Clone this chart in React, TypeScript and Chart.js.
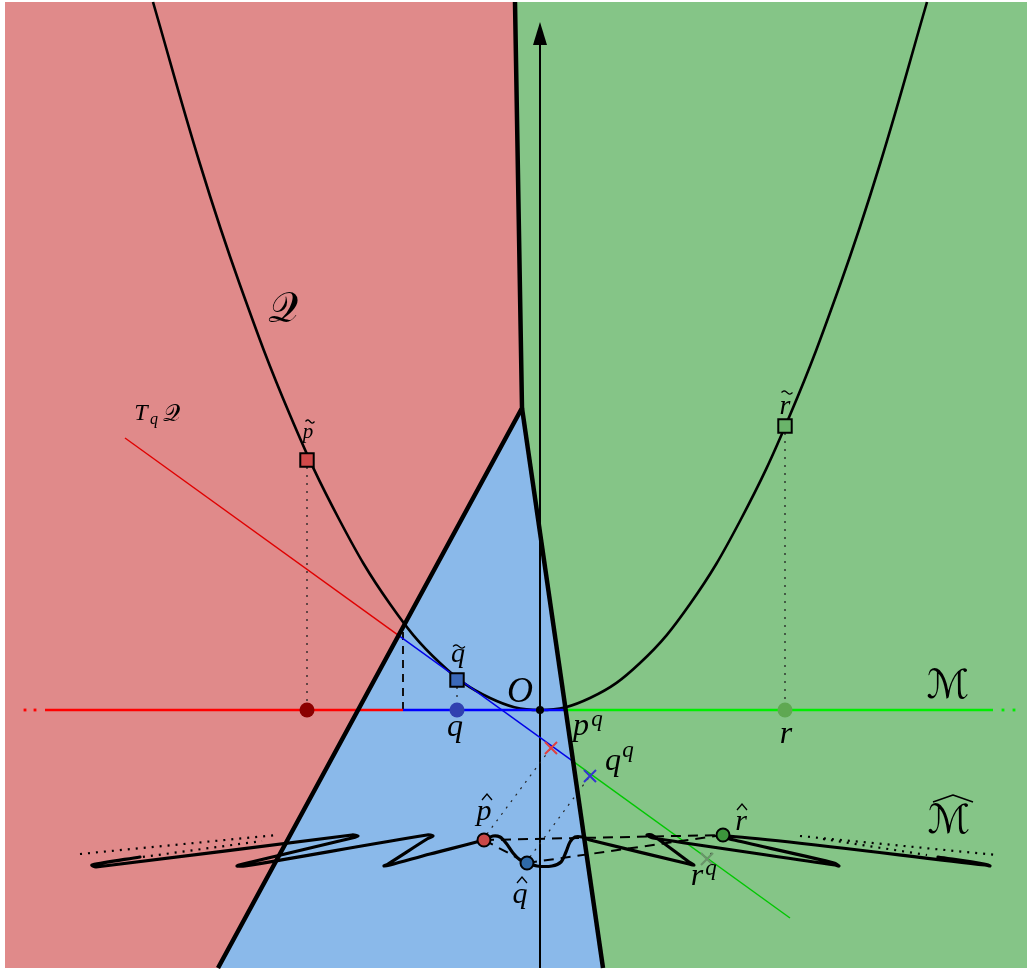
import React, { useEffect, useRef } from 'react';
import { Chart, registerables } from 'chart.js';

Chart.register(...registerables);

type P = { x: number; y: number };
const pts = (a: number[][]): P[] => a.map(([x, y]) => ({ x, y }));

// diagram window (origin O at the axis crossing, 1 unit = 100 px)
const X_MIN = -5.4, X_MAX = 4.87, Y_MIN = -2.61, Y_MAX = 7.1;

// coloured cells
const redCell = pts([[-5.35, 7.08], [-0.25, 7.08], [-0.18, 3.02], [-3.22, -2.58], [-5.35, -2.58]]);
const greenCell = pts([[-0.25, 7.08], [4.87, 7.08], [4.87, -2.58], [0.63, -2.58], [-0.18, 3.02]]);
const blueCell = pts([[-0.18, 3.02], [-3.22, -2.58], [0.63, -2.58]]);
const wallLeft = pts([[-0.25, 7.08], [-0.18, 3.02], [-3.22, -2.58]]);
const wallRight = pts([[-0.18, 3.02], [0.63, -2.58]]);

// vertical axis
const axisY = pts([[0, -2.58], [0, 6.67]]);
const arrowHead = pts([[0, 6.88], [-0.07, 6.65], [0.07, 6.65], [0, 6.88]]);

// curve Q
const curveQ = pts([
  [-3.87, 7.08], [-3.4, 5.46], [-3.0, 4.25], [-2.5, 2.95], [-2.0, 1.89], [-1.5, 1.06],
  [-1.0, 0.47], [-0.5, 0.12], [0, 0], [0.5, 0.12], [1.0, 0.47], [1.5, 1.06],
  [2.0, 1.89], [2.5, 2.95], [3.0, 4.25], [3.4, 5.46], [3.87, 7.08],
]);

// manifold M (horizontal line) split by cell
const mRed = pts([[-4.95, 0], [-1.37, 0]]);
const mBlue = pts([[-1.37, 0], [0.27, 0]]);
const mGreen = pts([[0.27, 0], [4.53, 0]]);
const mDotsLeft = pts([[-5.15, 0], [-5.05, 0]]);
const mDotsRight = pts([[4.63, 0], [4.74, 0]]);

// tangent line T_q Q
const tanRed = pts([[-4.15, 2.72], [-1.415, 0.746]]);
const tanBlue = pts([[-1.415, 0.746], [0.331, -0.514]]);
const tanGreen = pts([[0.331, -0.514], [2.5, -2.08]]);

const dashVertical = pts([[-1.37, 0.78], [-1.37, 0]]);

// sample points
const pPt = pts([[-2.33, 0]]);
const qPt = pts([[-0.83, 0]]);
const rPt = pts([[2.45, 0]]);
const oPt = pts([[0, 0]]);
const pTilde = pts([[-2.33, 2.5]]);
const qTilde = pts([[-0.83, 0.3]]);
const rTilde = pts([[2.45, 2.84]]);
const pQ = pts([[0.11, -0.38]]);
const qQ = pts([[0.5, -0.66]]);
const rQ = pts([[1.67, -1.49]]);
const pHat = pts([[-0.56, -1.3]]);
const qHat = pts([[-0.13, -1.53]]);
const rHat = pts([[1.83, -1.25]]);

// dotted projection lines
const dotP = pts([[-2.33, 2.43], [-2.33, 0.07]]);
const dotR = pts([[2.45, 2.77], [2.45, 0.07]]);
const dotQ = pts([[-0.83, 0.23], [-0.83, 0.07]]);
const dotPH = pts([[-0.53, -1.24], [0.11, -0.38]]);
const dotQH = pts([[-0.1, -1.47], [0.5, -0.66]]);
const dotRH = pts([[1.81, -1.3], [1.67, -1.49]]);

// dashed triangle
const dashPR = pts([[-0.56, -1.3], [1.83, -1.25]]);
const dashQR = pts([[-0.13, -1.53], [1.83, -1.25]]);
const dashPQ = pts([[-0.56, -1.3], [-0.13, -1.53]]);

// embedded curve M-hat
const curveMHat = pts([
  [-4.0, -1.47], [-4.48, -1.55], [-4.44, -1.57], [-1.88, -1.25], [-1.82, -1.26], [-1.88, -1.28],
  [-2.97, -1.54], [-3.03, -1.56], [-2.95, -1.56], [-1.13, -1.25], [-1.07, -1.26], [-1.13, -1.29],
  [-1.52, -1.54], [-1.56, -1.56], [-1.5, -1.55], [-1.1, -1.44], [-0.56, -1.3], [-0.47, -1.26],
  [-0.4, -1.27], [-0.34, -1.33], [-0.27, -1.43], [-0.2, -1.5], [-0.13, -1.53], [-0.03, -1.56],
  [0.12, -1.56], [0.21, -1.52], [0.26, -1.42], [0.3, -1.32], [0.35, -1.27], [0.42, -1.27],
  [0.5, -1.3], [1.49, -1.54], [1.54, -1.55], [1.49, -1.52], [1.12, -1.25], [1.07, -1.25],
  [1.13, -1.28], [2.95, -1.55], [2.99, -1.56], [2.94, -1.53], [1.83, -1.26], [4.45, -1.55],
  [4.5, -1.56], [4.44, -1.54], [3.98, -1.47],
]);
const dotsLeftA = pts([[-4.6, -1.44], [-2.63, -1.25]]);
const dotsLeftB = pts([[-4.05, -1.48], [-2.78, -1.31]]);
const dotsRightA = pts([[2.6, -1.26], [4.57, -1.45]]);
const dotsRightB = pts([[2.83, -1.29], [3.87, -1.45]]);

const wideHat = pts([[3.93, -0.92], [4.13, -0.85], [4.33, -0.92]]);

type Label = { t: string; x: number; y: number; size: number; italic?: boolean; acc?: 'tilde' | 'hat'; ax?: number; ay?: number; aw?: number };
const labels: Label[] = [
  { t: '\u{1D4AC}', x: -2.57, y: 3.88, size: 42 },
  { t: 'T', x: -3.99, y: 2.9, size: 24, italic: true },
  { t: 'q', x: -3.86, y: 2.86, size: 16, italic: true },
  { t: '\u{1D4AC}', x: -3.69, y: 2.89, size: 24 },
  { t: 'p', x: -2.32, y: 2.72, size: 21, italic: true, acc: 'tilde', ax: -2.3, ay: 2.885, aw: 9 },
  { t: 'q', x: -0.82, y: 0.48, size: 28, italic: true, acc: 'tilde', ax: -0.81, ay: 0.635, aw: 12 },
  { t: 'r', x: 2.45, y: 2.96, size: 28, italic: true, acc: 'tilde', ax: 2.47, ay: 3.175, aw: 11 },
  { t: 'O', x: -0.2, y: 0.08, size: 36, italic: true },
  { t: 'q', x: -0.85, y: -0.26, size: 32, italic: true },
  { t: 'r', x: 2.46, y: -0.33, size: 32, italic: true },
  { t: 'p', x: 0.41, y: -0.25, size: 32, italic: true },
  { t: 'q', x: 0.57, y: -0.16, size: 23, italic: true },
  { t: 'q', x: 0.73, y: -0.6, size: 32, italic: true },
  { t: 'q', x: 0.88, y: -0.47, size: 23, italic: true },
  { t: 'r', x: 1.57, y: -1.75, size: 32, italic: true },
  { t: 'q', x: 1.71, y: -1.65, size: 23, italic: true },
  { t: 'p', x: -0.56, y: -1.1, size: 30, italic: true, acc: 'hat', ax: -0.53, ay: -0.87, aw: 10 },
  { t: 'q', x: -0.2, y: -1.93, size: 30, italic: true, acc: 'hat', ax: -0.18, ay: -1.7, aw: 10 },
  { t: 'r', x: 2.01, y: -1.2, size: 30, italic: true, acc: 'hat', ax: 2.02, ay: -0.97, aw: 10 },
  { t: '\u2133', x: 4.08, y: 0.12, size: 40 },
  { t: '\u2133', x: 4.09, y: -1.23, size: 40 },
];

const FONT = "'Liberation Serif', 'DejaVu Serif', 'DejaVu Sans', serif";

const textPlugin = {
  id: 'diagramText',
  afterDatasetsDraw(chart: any) {
    const { ctx } = chart;
    const sx = chart.scales.x;
    const sy = chart.scales.y;
    ctx.save();
    ctx.fillStyle = '#000';
    ctx.strokeStyle = '#000';
    ctx.textAlign = 'center';
    ctx.textBaseline = 'alphabetic';
    for (const l of labels) {
      ctx.font = `${l.italic ? 'italic ' : ''}${l.size}px ${FONT}`;
      ctx.fillText(l.t, sx.getPixelForValue(l.x), sy.getPixelForValue(l.y));
      if (l.acc) {
        const cx = sx.getPixelForValue(l.ax!);
        const cy = sy.getPixelForValue(l.ay!);
        const w = l.aw!;
        ctx.lineWidth = 1.3;
        ctx.beginPath();
        if (l.acc === 'hat') {
          ctx.moveTo(cx - w / 2, cy + 3);
          ctx.lineTo(cx, cy - 3);
          ctx.lineTo(cx + w / 2, cy + 3);
        } else {
          for (let i = 0; i <= 12; i++) {
            const t = i / 12;
            const px = cx - w / 2 + w * t;
            const py = cy - 1.6 * Math.sin(2 * Math.PI * t);
            if (i === 0) ctx.moveTo(px, py); else ctx.lineTo(px, py);
          }
        }
        ctx.stroke();
      }
    }
    ctx.restore();
  },
};

export default function App() {
  const ref = useRef<HTMLCanvasElement>(null);
  useEffect(() => {
    const layers: any[] = [];
    const poly = (data: P[], color: string) =>
      layers.push({ data, showLine: true, fill: 'shape', backgroundColor: color, borderColor: 'rgba(0,0,0,0)', borderWidth: 0, pointRadius: 0, tension: 0 });
    const line = (data: P[], color: string, width: number, dash: number[] = [], tension = 0, cap = 'butt') =>
      layers.push({ data, showLine: true, fill: false, borderColor: color, borderWidth: width, borderDash: dash, pointRadius: 0, tension, borderCapStyle: cap, borderJoinStyle: 'round' });
    const mark = (data: P[], style: string, radius: number, fillC: string, borderC: string, bw: number) =>
      layers.push({ data, showLine: false, pointStyle: style, pointRadius: radius, pointBackgroundColor: fillC, pointBorderColor: borderC, pointBorderWidth: bw, backgroundColor: fillC, borderColor: borderC });

    poly(redCell, '#e08a8a');
    poly(greenCell, '#85c587');
    poly(blueCell, '#8ab9ea');
    line(axisY, '#000', 2);
    poly(arrowHead, '#000');
    line(curveQ, '#000', 2.6, [], 0.4);
    line(dotP, '#222', 1.3, [2, 6]);
    line(dotR, '#222', 1.3, [2, 6]);
    line(dotQ, '#222', 1.3, [2, 6]);
    line(dashVertical, '#111', 2, [8, 6]);
    line(tanRed, '#e00000', 1.4);
    line(tanBlue, '#0000e6', 1.4);
    line(tanGreen, '#00c800', 1.4);
    line(mRed, '#ff0000', 2.6);
    line(mBlue, '#0000ff', 2.6);
    line(mGreen, '#00ee00', 2.6);
    mark(mDotsLeft, 'rect', 2, '#ff0000', '#ff0000', 0);
    mark(mDotsRight, 'rect', 2, '#00ee00', '#00ee00', 0);
    line(dotsLeftA, '#000', 2.2, [2, 6]);
    line(dotsLeftB, '#000', 2.2, [2, 6]);
    line(dotsRightA, '#000', 2.2, [2, 6]);
    line(dotsRightB, '#000', 2.2, [2, 6]);
    line(dotPH, '#222', 1.2, [2, 6]);
    line(dotQH, '#222', 1.2, [2, 6]);
    line(dotRH, '#222', 1.2, [2, 6]);
    line(dashPR, '#000', 2, [10, 7]);
    line(dashQR, '#000', 2, [10, 7]);
    line(dashPQ, '#000', 2, [10, 7]);
    line(curveMHat, '#000', 3.2, [], 0.3, 'round');
    line(wallLeft, '#000', 4.5);
    line(wallRight, '#000', 4.5);
    line(wideHat, '#000', 1.5);
    mark(pPt, 'circle', 7.5, '#8b0000', '#8b0000', 0);
    mark(qPt, 'circle', 7.5, '#3040b0', '#3040b0', 0);
    mark(rPt, 'circle', 7.5, '#5fa852', '#5fa852', 0);
    mark(oPt, 'circle', 4, '#000', '#000', 0);
    mark(pTilde, 'rect', 9.5, '#d04a4a', '#000', 2);
    mark(qTilde, 'rect', 9.5, '#3b69b9', '#000', 2);
    mark(rTilde, 'rect', 9.5, '#6ab46a', '#000', 2);
    mark(pQ, 'crossRot', 8.5, '#e04040', '#e04040', 2);
    mark(qQ, 'crossRot', 8.5, '#3434d0', '#3434d0', 2);
    mark(rQ, 'crossRot', 8.5, '#6a946a', '#6a946a', 2.2);
    mark(pHat, 'circle', 6.5, '#c84848', '#000', 2);
    mark(qHat, 'circle', 6.5, '#2f6aa8', '#000', 2);
    mark(rHat, 'circle', 6.5, '#3c963c', '#000', 2);

    const n = layers.length;
    layers.forEach((d, i) => { d.order = n - i; });

    const chart = new Chart(ref.current!, {
      type: 'scatter',
      data: { datasets: layers },
      options: {
        animation: false,
        responsive: false,
        maintainAspectRatio: false,
        devicePixelRatio: 1,
        events: [],
        layout: { padding: 0, autoPadding: false },
        plugins: { legend: { display: false }, tooltip: { enabled: false }, title: { display: false } },
        scales: {
          x: { type: 'linear', min: X_MIN, max: X_MAX, display: false },
          y: { type: 'linear', min: Y_MIN, max: Y_MAX, display: false },
        },
      },
      plugins: [textPlugin],
    } as any);
    return () => chart.destroy();
  }, []);

  return (
    <div style={{ position: 'absolute', left: 0, top: 0, width: 1027, height: 971, background: '#fff' }}>
      <canvas ref={ref} width={1027} height={971} style={{ display: 'block', width: 1027, height: 971 }} />
    </div>
  );
}
